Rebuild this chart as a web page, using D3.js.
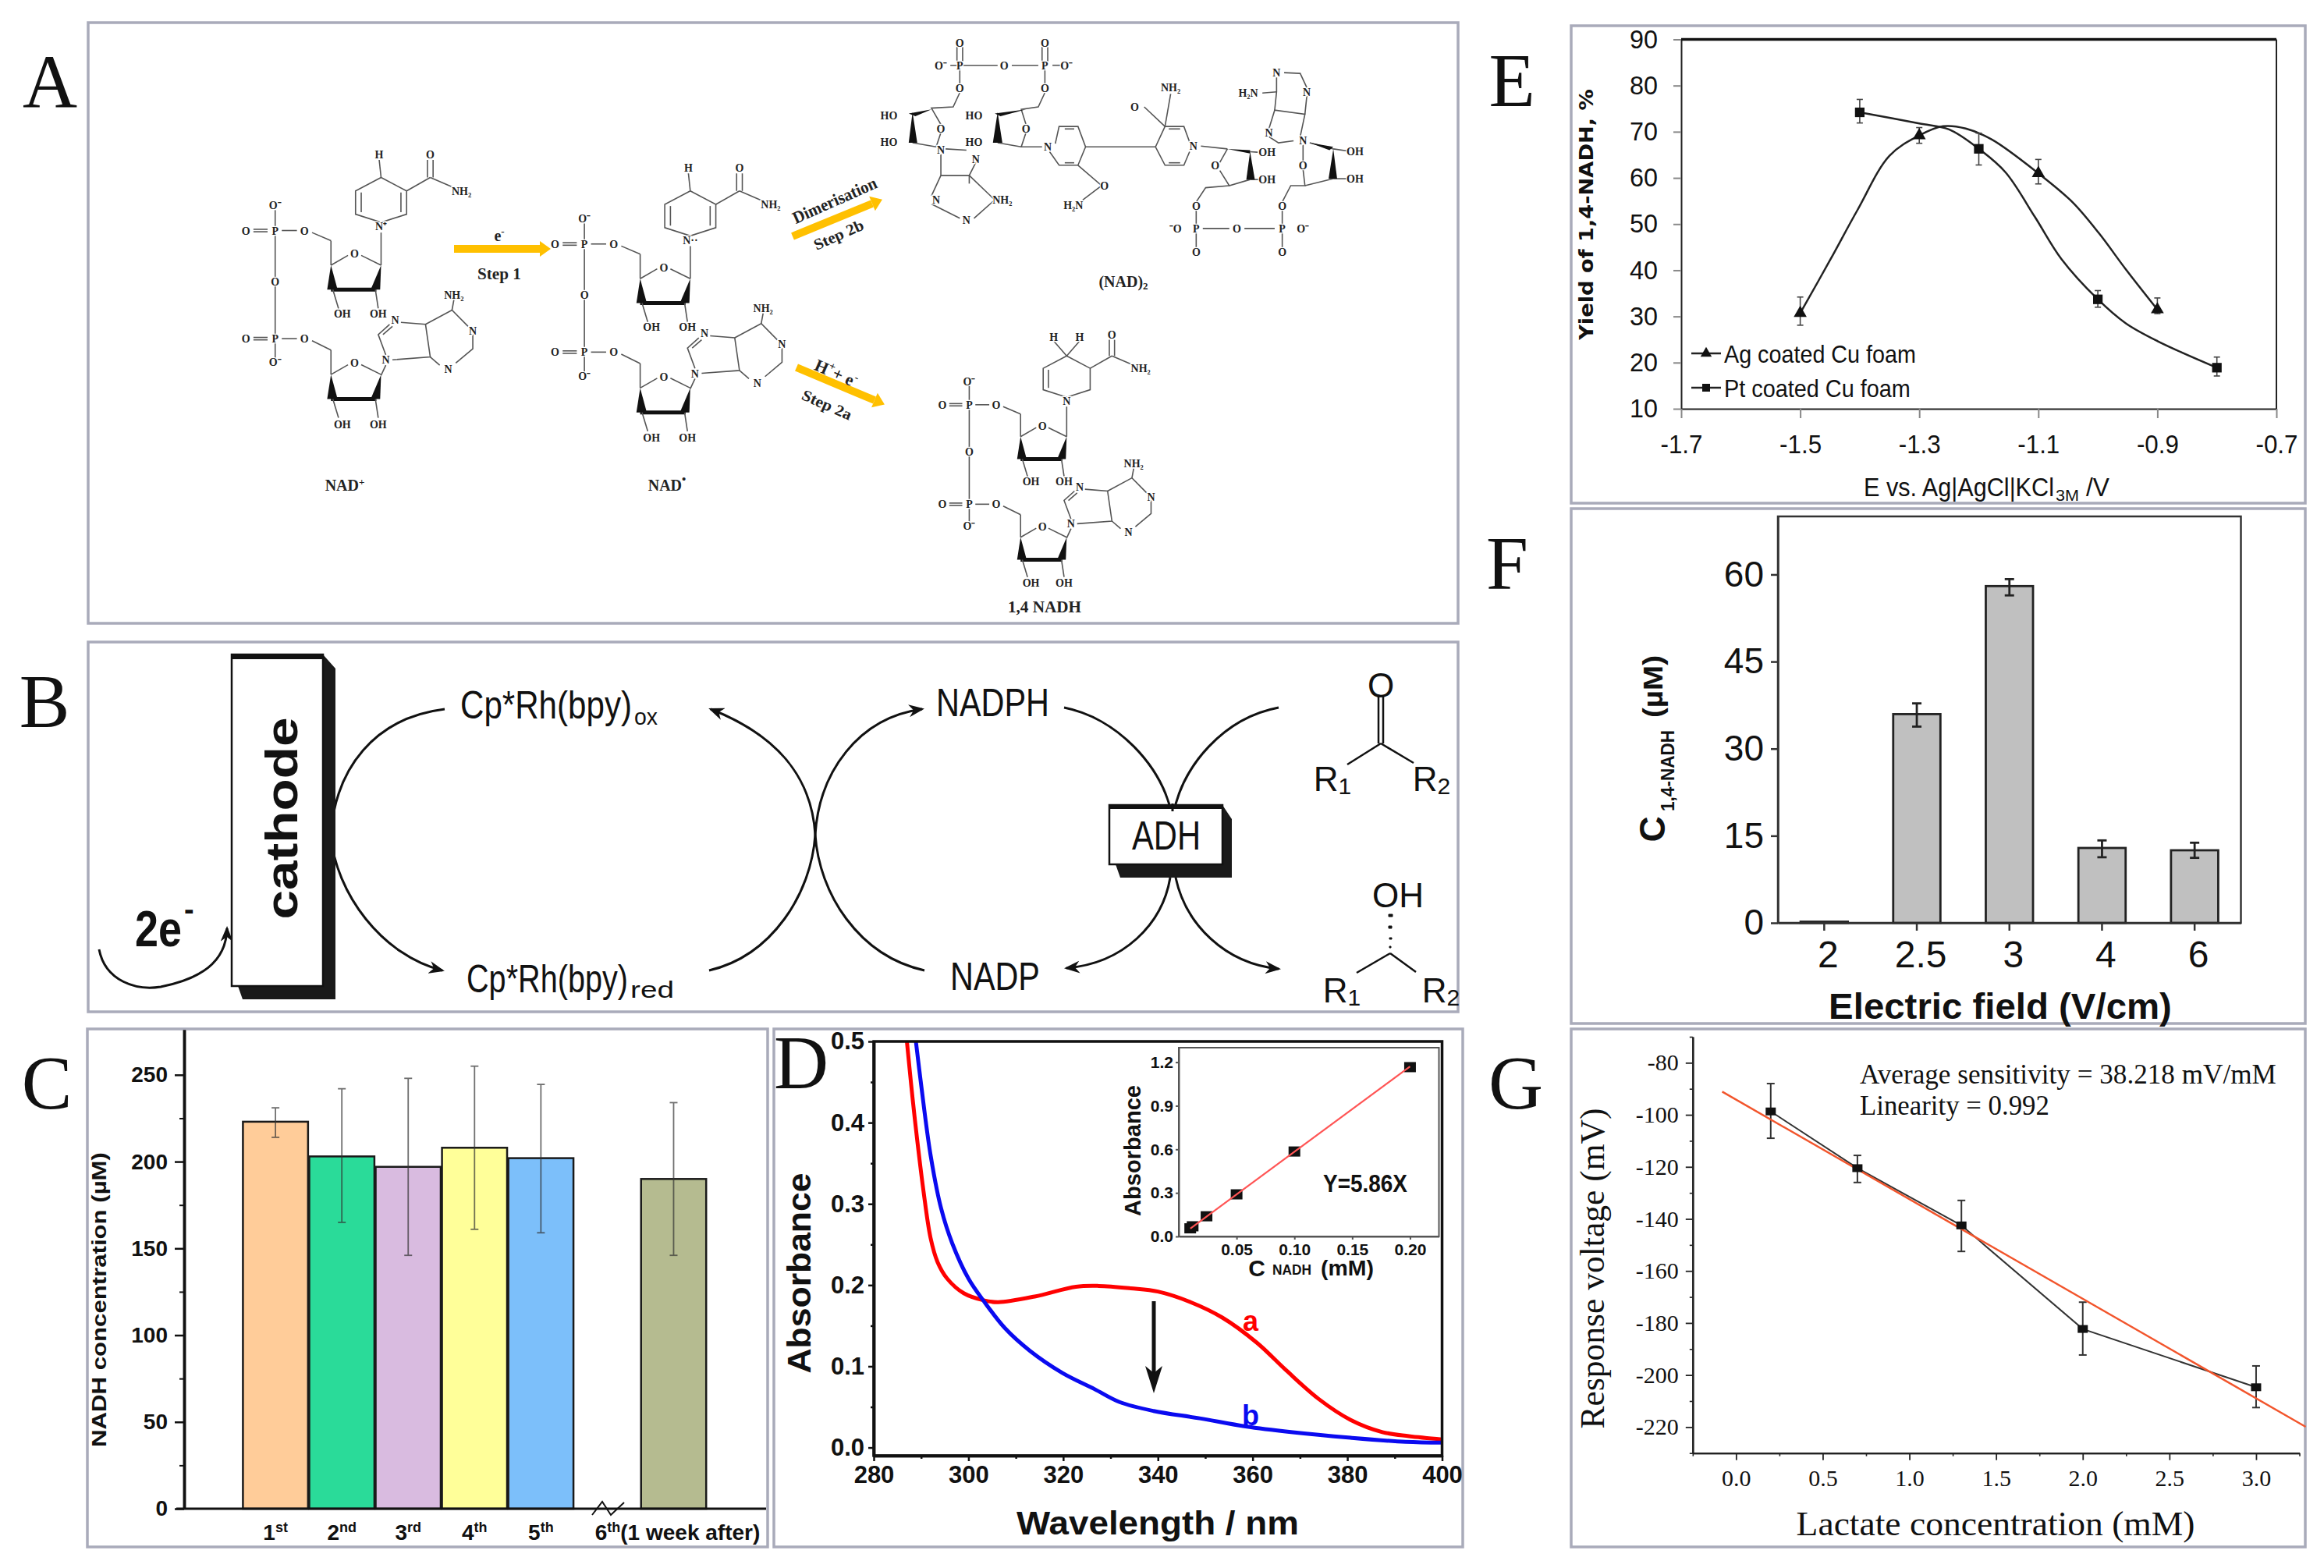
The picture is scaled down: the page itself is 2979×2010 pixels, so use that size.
<!DOCTYPE html>
<html><head><meta charset="utf-8">
<script src="https://cdn.jsdelivr.net/npm/d3@7/dist/d3.min.js"></script>
<style>html,body{margin:0;padding:0;background:#fff}svg{display:block}</style>
</head><body>
<script>
// ---------- DATA ----------
const cRuns = ["1","2","3","4","5","gap","6"];
const cSuffix = ["st","nd","rd","th","th","","th"];
const cValues = [223,203,197,208,202,null,190];
const cErrHi = [231,242,248,255,244.5,null,234];
const cErrLo = [214,165,146,161,159,null,146];
const cColors = ["#ffcc99","#2adb99","#d9bbe0","#ffff99","#7cbffa","#fff","#b5bb90"];
const cTicks = [0,50,100,150,200,250];
const cMinor = [25,75,125,175,225];

const dRedW = [287,287.9,288.7,290.5,292,293.5,295.5,299,303.4,306.3,314,322.7,327.5,334.3,340,346.9,353.6,360.9,367.1,373.9,380.7,387.4,393,400];
const dRedA = [.5,.447,.403,.316,.258,.228,.208,.19,.181,.179,.186,.198,.199,.196,.192,.179,.16,.129,.095,.06,.034,.019,.014,.01];
const dBlueW = [288.9,290,292,294.2,296.6,300,303.4,307.7,313,319.8,326.6,331.9,339.1,348.8,358.5,368.1,380.7,392.3,400];
const dBlueA = [.5,.447,.36,.295,.251,.208,.179,.147,.119,.092,.072,.056,.045,.036,.026,.019,.012,.007,.006];
const dXTicks = [280,300,320,340,360,380,400];
const dXMinor = [290,310,330,350,370,390];
const dYTicks = [0,.1,.2,.3,.4,.5];
const dYMinor = [.05,.15,.25,.35,.45];
const insetC = [.0099,.012,.024,.05,.1,.2];
const insetA = [.056,.07,.139,.29,.585,1.166];
const insetFitC = [.01,.2];
const insetFitA = [.055,1.17];

const eAgV = [-1.5,-1.3,-1.1,-.9];
const eAgY = [30.7,69.2,61,31.5];
const eAgHi = [34.2,70.9,64,34];
const eAgLo = [28.1,67.5,58.7,30.6];
const eAgCurveV = [-1.5,-1.449,-1.404,-1.35,-1.3,-1.26,-1.222,-1.178,-1.1,-1.043,-.998,-.953,-.9];
const eAgCurveY = [30.7,42.4,53,64.8,69.2,71.2,70.7,68.3,61,54.8,48,40.2,31.5];
const ePtV = [-1.4,-1.2,-1,-.8];
const ePtY = [74.2,66.3,33.7,18.9];
const ePtHi = [77,69.7,35.6,21.2];
const ePtLo = [71.9,62.8,32,17.1];
const ePtCurveV = [-1.4,-1.3,-1.25,-1.2,-1.155,-1.106,-1.061,-1,-.953,-.899,-.8];
const ePtCurveY = [74.2,71.8,70.5,66.3,61.2,51.6,42.4,33.7,28.5,24.6,18.9];
const eXTicks = [-1.7,-1.5,-1.3,-1.1,-.9,-.7];
const eYTicks = [10,20,30,40,50,60,70,80,90];

const fFields = ["2","2.5","3","4","6"];
const fValues = [.2,35.95,58,12.9,12.5];
const fErrHi = [null,37.8,59.2,14.2,13.8];
const fErrLo = [null,33.8,56.4,11.3,11.2];
const fYTicks = [0,15,30,45,60];

const gC = [.2,.7,1.3,2,3];
const gV = [-98.7,-120.5,-142.5,-182.3,-204.7];
const gHi = [-88,-115.6,-132.9,-172,-196.5];
const gLo = [-109,-126,-152.5,-192.3,-212.5];
const gFitC = [-.08,3.286];
const gFitV = [-91.1,-219.9];
const gXTicks = [0,.5,1,1.5,2,2.5,3];
const gXMinor = [-.25,.25,.75,1.25,1.75,2.25,2.75,3.25];
const gYTicks = [-80,-100,-120,-140,-160,-180,-200,-220];
const gYMinor = [-70,-90,-110,-130,-150,-170,-190,-210,-230];

// ---------- HELPERS ----------
const SANS="'Liberation Sans',Arial,sans-serif", NARROW="'Liberation Sans Narrow','Liberation Sans',sans-serif",
      SERIF="'Liberation Serif','Times New Roman',serif", WIDE="'DejaVu Sans',sans-serif";
const svg=d3.select("body").append("svg").attr("width",2979).attr("height",2010).attr("viewBox","0 0 2979 2010");
svg.append("rect").attr("width",2979).attr("height",2010).attr("fill","#fff");
function T(p,str,x,y,o={}){
  const base=`translate(${x},${y})`+(o.rot?` rotate(${o.rot})`:"");
  const t=p.append("text").attr("transform",base)
    .attr("font-family",o.fam||SANS).attr("font-size",o.size||20).attr("font-weight",o.weight||"normal")
    .attr("text-anchor",o.anchor||"middle").attr("fill",o.fill||"#111");
  if(!o.base) t.attr("dominant-baseline","central");
  if(o.halo) t.attr("stroke","#fff").attr("stroke-width",o.halo).attr("paint-order","stroke");
  const parts=Array.isArray(str)?str:[{t:str}];
  parts.forEach(q=>{const s=t.append("tspan").text(q.t);
    if(q.dy) s.attr("dy",q.dy); if(q.size) s.attr("font-size",q.size); if(q.weight) s.attr("font-weight",q.weight);});
  if(o.len){ const natural=t.node().getComputedTextLength(); if(natural>0) t.attr("transform",base+` scale(${o.len/natural},1)`); }
  return t;
}
function panel(x0,y0,x1,y1){svg.append("rect").attr("x",x0).attr("y",y0).attr("width",x1-x0).attr("height",y1-y0)
  .attr("fill","#fff").attr("stroke","#a9abba").attr("stroke-width",3.5);}
function styleAxis(g,o){
  g.selectAll("path.domain").attr("stroke",o.color||"#111").attr("stroke-width",o.w||2);
  g.selectAll(".tick line").attr("stroke",o.tickColor||o.color||"#111").attr("stroke-width",o.tw||o.w||2);
  g.selectAll("text").attr("font-family",o.fam||SANS).attr("font-size",o.size||20).attr("font-weight",o.weight||"normal").attr("fill","#111");
  if(o.len) g.selectAll("text").attr("textLength",o.len).attr("lengthAdjust","spacingAndGlyphs");
  return g;
}
function errBars(g,xs,hi,lo,sx,sy,cap,color,w,op){
  xs.forEach((x,i)=>{ if(hi[i]==null) return;
    const e=g.append("g").attr("stroke",color).attr("stroke-width",w).attr("opacity",op||1);
    const px=sx(x)+(sx.bandwidth?sx.bandwidth()/2:0);
    e.append("line").attr("x1",px).attr("x2",px).attr("y1",sy(hi[i])).attr("y2",sy(lo[i]));
    [hi[i],lo[i]].forEach(v=>e.append("line").attr("x1",px-cap).attr("x2",px+cap).attr("y1",sy(v)).attr("y2",sy(v)));
  });
}
const zip=(a,b)=>a.map((v,i)=>[v,b[i]]);

// ---------- PANEL FRAMES ----------
panel(113,29,1869,799);
panel(113,823,1869,1297);
panel(112,1319,984,1983);
panel(992,1319,1875,1983);
panel(2014,33,2955,645);
panel(2014,652,2955,1312);
panel(2014,1319,2955,1983);

// ---------- PANEL A : reaction scheme ----------
const A=svg.append("g");
const zx=x=>x/.825, zy=y=>y/1.912;
function polyl(pts,w,color){A.append("path").attr("d",d3.line()(pts)).attr("fill","none").attr("stroke",color||"#555").attr("stroke-width",w||1.6);}
function fillp(pts){A.append("path").attr("d",d3.line()(pts)+"Z").attr("fill","#111");}
function lab(s,x,y,size){T(A,s,x,y,{fam:SERIF,weight:"bold",size:size||14,halo:2.5,fill:"#222"});}
function nucleotide(dx,dy,s,kind){
  const M=(x,y)=>[(x-291)*s+291+dx,(y-565)*s+565+dy].map((v,i)=>i?zy(v):zx(v));
  const L=(...p)=>polyl(p.map(q=>M(q[0],q[1])));
  const W=(...p)=>fillp(p.map(q=>M(q[0],q[1])));
  const Lb=(t,x,y)=>{const m=M(x,y);lab(t,m[0],m[1]);};
  L([291,515],[291,555]);L([291,575],[291,680]);L([291,700],[291,820]);L([291,840],[291,878]);
  [565,830].forEach(y=>{L([268,y-3],[283,y-3]);L([268,y+3],[283,y+3]);L([298,y],[314,y]);});
  L([330,570],[350,590]);L([330,835],[350,858]);
  [0,268].forEach(o=>{
    const ol=o?[350,858]:[350,590];
    L(ol,[350,650+o]);L([350,650+o],[368,626+o]);L([382,626+o],[403,650+o]);
    W([350,650+o],[346,710+o],[357,710+o]);W([403,650+o],[392,710+o],[402,710+o]);
    polyl([M(350,710+o),M(398,710+o)],5,"#111");
    L([352,710+o],[358,756+o]);L([397,710+o],[400,756+o]);
    Lb("O",375,622+o);Lb("OH",362,768+o+(o?4:0));Lb("OH",400,768+o+(o?4:0));
  });
  L([403,570],[403,650]);
  const ring=[[403,435],[430,468],[430,525],[403,545],[376,525],[376,468],[403,435]];
  L(...ring);
  if(kind!=="h"){L([424,472],[424,520]);L([382,472],[382,520]);} else {L([382,472],[382,520]);}
  L([430,468],[455,435]);L([452,435],[452,392]);L([458,435],[458,392]);L([455,435],[478,458]);
  Lb("O",455,378);Lb("NH₂",488,468);Lb(kind==="plus"?"N⁺":(kind==="rad"?"N··":"N"),403,555);
  if(kind==="h"){L([403,435],[388,395]);L([403,435],[418,395]);Lb("H",388,384);Lb("H",418,384);}
  else{L([403,435],[401,392]);Lb("H",401,378);}
  Lb("P",291,565);Lb("O",260,565);Lb("O",322,565);Lb("O",291,690);Lb("P",291,830);Lb("O",260,830);Lb("O",322,830);
  Lb("O⁻",291,503);Lb("O⁻",291,888);
  L([403,920],[408,895]);
  L([408,870],[400,820],[412,795]);L([424,790],[450,795],[455,875],[415,882]);L([450,795],[478,760],[495,800]);
  L([500,820],[500,855],[482,890]);L([465,895],[455,875]);L([478,760],[480,735]);L([405,820],[415,800]);
  Lb("N",418,783);Lb("N",500,810);Lb("N",474,905);Lb("N",408,882);Lb("NH₂",480,722);
}
nucleotide(0,0,1,"plus");
nucleotide(327,33,1,"rad");
nucleotide(734,427,.92,"h");

// dimer
const dimerLines=[
 [[1012,115],[1012,150]],[[1018,115],[1018,150]],[[1005,160],[1055,160]],[[1070,160],[1098,160]],[[1102,115],[1102,150]],[[1108,115],[1108,150]],[[1113,160],[1122,160]],
 [[1015,170],[1015,207]],[[1105,170],[1105,207]],[[1015,227],[1008,262],[985,265],[995,305]],[[1105,227],[1098,262],[1080,268],[1085,305]],
 [[995,325],[990,360]],[[1085,325],[1080,360],[1102,360]],[[965,350],[990,360]],[[1055,350],[1080,360]],
 [[995,378],[995,430],[1025,430],[1032,398]],[[1000,365],[1022,368]],[[995,430],[985,480]],[[1025,430],[1052,490]],[[1025,430],[1025,450]],
 [[985,500],[1015,535]],[[1030,535],[1052,490]],
 [[1116,352],[1120,310],[1140,310],[1148,360],[1140,405],[1120,405],[1110,372]],[[1126,316],[1136,316]],[[1126,399],[1136,399]],
 [[1148,360],[1222,360]],[[1140,405],[1165,455],[1145,490]],
 [[1222,360],[1232,310],[1252,310],[1258,348]],[[1258,372],[1252,405],[1232,405],[1222,360]],[[1236,316],[1248,316]],[[1236,399],[1248,399]],
 [[1232,310],[1210,262]],[[1232,310],[1238,230]],
 [[1270,358],[1298,365]],[[1298,365],[1290,398]],[[1290,418],[1300,455],[1322,440]],[[1300,455],[1275,460],[1265,495]],[[1322,372],[1330,373]],[[1322,440],[1332,440]],
 [[1265,515],[1265,550]],[[1265,570],[1265,607]],[[1272,560],[1300,560]],[[1316,560],[1348,560]],[[1356,570],[1356,607]],[[1356,515],[1356,550]],[[1356,495],[1365,455],[1380,455],[1378,415]],
 [[1378,395],[1378,355]],[[1385,350],[1410,365]],[[1380,455],[1410,438]],[[1410,365],[1425,370]],[[1410,438],[1425,438]],
 [[1368,345],[1352,350],[1342,335]],[[1342,315],[1348,270],[1380,280],[1375,335]],[[1348,270],[1350,225],[1350,190]],[[1358,178],[1375,180],[1382,215]],[[1382,235],[1380,280]],[[1335,228],[1350,225]]
];
dimerLines.forEach(l=>polyl(l.map(p=>[zx(p[0]),zy(p[1])])));
[[[965,275],[961,350],[970,350]],[[985,268],[961,278],[968,285]],[[1055,275],[1050,350],[1060,350]],[[1085,268],[1052,278],[1058,285]],
 [[1322,372],[1318,440],[1327,440]],[[1298,365],[1322,368],[1322,376]],[[1410,365],[1405,438],[1414,438]],[[1385,350],[1410,360],[1406,368]]]
 .forEach(p=>fillp(p.map(q=>[zx(q[0]),zy(q[1])])));
[["O",1015,105],["O",1105,105],["P",1015,160],["P",1105,160],["O",1062,160],["O⁻",995,160],["O⁻",1128,160],["O",1015,217],["O",1105,217],
 ["HO",940,283],["HO",940,348],["HO",1030,283],["HO",1030,348],["O",995,315],["O",1085,315],["N",995,368],["N",1108,360],["N",1032,390],["N",990,490],["N",1022,540],["NH₂",1060,490],
 ["O",1168,455],["H₂N",1135,503],["O",1200,262],["NH₂",1238,215],["N",1262,358],["OH",1340,373],["OH",1340,440],["O",1285,405],
 ["O",1265,505],["P",1265,560],["O",1265,617],["⁻O",1243,560],["O",1308,560],["P",1356,560],["O",1356,617],["O⁻",1378,560],["O",1356,505],
 ["O",1378,405],["N",1378,345],["OH",1433,370],["OH",1433,438],["N",1342,325],["N",1350,178],["N",1382,225],["H₂N",1320,228]]
 .forEach(d=>lab(d[0],zx(d[1]),zy(d[2])));

// yellow arrows
function yarrow(x0,y0,x1,y1){
  A.append("line").attr("x1",x0).attr("y1",y0).attr("x2",x1).attr("y2",y1).attr("stroke","#ffc000").attr("stroke-width",10);
  const a=Math.atan2(y1-y0,x1-x0),L=14,W=10,c=Math.cos(a),s=Math.sin(a);
  A.append("path").attr("d",`M${x1+L*c},${y1+L*s}L${x1-W*s},${y1+W*c}L${x1+W*s},${y1-W*c}Z`).attr("fill","#ffc000");
}
yarrow(582,319,692,319);yarrow(1016,303,1118,261);yarrow(1021,471,1121,513);
const bs={fam:SERIF,weight:"bold",size:20,fill:"#222"};
T(A,[{t:"e"},{t:"-",dy:-6,size:13}],640,302,bs);
T(A,"Step 1",640,351,{...bs,len:56});
T(A,"Dimerisation",1070,257,{...bs,rot:-24,size:22,len:116});
T(A,"Step 2b",1075,301,{...bs,rot:-24,len:68});
T(A,[{t:"H"},{t:"+",dy:-6,size:14},{t:"+ e",dy:6},{t:"-",dy:-6,size:14}],1072,478,{...bs,rot:24,size:22});
T(A,"Step 2a",1060,519,{...bs,rot:24,len:68});
T(A,[{t:"NAD"},{t:"+",dy:-5,size:13}],442,622,bs);
T(A,[{t:"NAD"},{t:"•",dy:-8,size:15}],855,622,bs);
T(A,[{t:"(NAD)"},{t:"2",dy:5,size:13}],1440,361,bs);
T(A,"1,4 NADH",1339,778,{...bs,len:94});

// ---------- PANEL B : cofactor cycle ----------
const B=svg.append("g");
const defs=svg.append("defs");
defs.append("marker").attr("id","ah").attr("viewBox","0 0 20 16").attr("refX",17).attr("refY",8).attr("markerWidth",20).attr("markerHeight",16).attr("markerUnits","userSpaceOnUse").attr("orient","auto")
  .append("path").attr("d","M0,0 L20,8 L0,16 L6,8 Z").attr("fill","#111");
[["M570,909 C480,920 430,985 424,1070 C430,1145 490,1225 567,1244",1],
 ["M909,1244 C990,1225 1040,1145 1045,1070 C1040,990 990,940 911,909",1],
 ["M1185,1244 C1100,1225 1050,1145 1045,1070 C1050,990 1100,920 1182,909",1],
 ["M1364,907 C1430,920 1490,980 1503,1048",0],["M1639,907 C1570,920 1515,980 1503,1048",0],
 ["M1500,1125 C1490,1185 1440,1235 1367,1241",1],["M1507,1125 C1520,1185 1570,1235 1639,1242",1],
 ["M127,1217 C135,1258 175,1270 206,1265 C255,1255 290,1235 291,1190",1]]
 .forEach(d=>{const p=B.append("path").attr("d",d[0]).attr("fill","none").attr("stroke","#111").attr("stroke-width",3);
   if(d[1]) p.attr("marker-end","url(#ah)");});
function box3d(x0,y0,x1,y1,xs,ys,top){
  B.append("path").attr("d",`M${x0+8},${y1}L${x0+14},${ys}L${xs},${ys}L${xs},${y0+18}L${x1},${y0}L${x1},${y1}Z`).attr("fill","#1a1a1a");
  B.append("rect").attr("x",x0).attr("y",y0).attr("width",x1-x0).attr("height",y1-y0).attr("fill","#fff").attr("stroke","#111").attr("stroke-width",2.5);
  B.append("rect").attr("x",x0).attr("y",y0).attr("width",x1-x0).attr("height",top).attr("fill","#111");
}
box3d(297,839,414,1264,430,1281,6);
box3d(1422,1032,1567,1108,1579,1125,5);
B.append("path").attr("d","M1503,1030V1040").attr("stroke","#111").attr("stroke-width",3);
T(B,"cathode",361,1049,{size:58,weight:"bold",rot:-90,len:259});
T(B,"ADH",1495,1070,{fam:NARROW,size:52,len:88});
const Bt={fam:NARROW,size:50,anchor:"start"};
T(B,"Cp*Rh(bpy)",590,904,{...Bt,len:220});
T(B,"ox",813,919,{...Bt,size:30,len:30});
T(B,"Cp*Rh(bpy)",598,1254,{...Bt,len:207});
T(B,"red",808,1269,{...Bt,size:30,len:56});
T(B,"NADPH",1200,901,{...Bt,len:145});
T(B,"NADP",1218,1252,{...Bt,len:115});
T(B,"2e",173,1190,{fam:NARROW,size:64,weight:"bold",anchor:"start",len:60});
T(B,"-",236,1166,{fam:NARROW,size:38,weight:"bold",anchor:"start"});
const S3=(p)=>B.append("path").attr("d",p).attr("fill","none").attr("stroke","#111").attr("stroke-width",2.5);
S3("M1767,893V953M1773,893V953M1770,953L1727,980M1770,953L1812,978");
S3("M1782,1222L1739,1247M1782,1222L1815,1246");
B.append("path").attr("d","M1780,1172h5v3h-5zM1780,1187h4v3h-4zM1781,1202h3v2h-3zM1781,1213h2v2h-2z").attr("fill","#111").attr("stroke","#111");
const bl={fam:NARROW,size:44};
T(B,"O",1770,878,bl);T(B,"OH",1792,1147,bl);
T(B,[{t:"R"},{t:"1",dy:9,size:30}],1708,998,bl);T(B,[{t:"R"},{t:"2",dy:9,size:30}],1835,998,bl);
T(B,[{t:"R"},{t:"1",dy:9,size:30}],1720,1269,bl);T(B,[{t:"R"},{t:"2",dy:9,size:30}],1847,1269,bl);

// ---------- PANEL C ----------
const C=svg.append("g");
const cx=d3.scaleBand().domain(cRuns).range([310.6,906]);
const cy=d3.scaleLinear().domain([0,276]).range([1934,1320]);
cRuns.forEach((r,i)=>{ if(cValues[i]==null) return;
  C.append("rect").attr("x",cx(r)+.8).attr("width",cx.bandwidth()-1.6).attr("y",cy(cValues[i])).attr("height",cy(0)-cy(cValues[i]))
   .attr("fill",cColors[i]).attr("stroke","#1a1a1a").attr("stroke-width",2.5);});
errBars(C,cRuns,cErrHi,cErrLo,cx,cy,5,"#333",1.8,.7);
styleAxis(C.append("g").attr("transform","translate(236,0)").call(d3.axisLeft(cy).tickValues(cMinor).tickSize(6).tickFormat("").tickSizeOuter(0)),{w:3.5,tw:2});
styleAxis(C.append("g").attr("transform","translate(236,0)").call(d3.axisLeft(cy).tickValues(cTicks).tickSize(12).tickPadding(9).tickSizeOuter(0)),{w:3.5,tw:2.5,size:28,weight:"bold",fam:NARROW});
C.append("line").attr("x1",226).attr("x2",982).attr("y1",cy(0)).attr("y2",cy(0)).attr("stroke","#111").attr("stroke-width",3);
const cAx=C.append("g").attr("transform",`translate(0,${cy(0)})`).call(d3.axisBottom(cx).tickSize(0).tickPadding(20));
cAx.selectAll("path.domain").remove();
cAx.selectAll("text").each(function(d,i){const s=d3.select(this).text("").attr("font-family",NARROW).attr("font-size",28).attr("font-weight","bold").attr("fill","#111");
  if(d==="gap") return;
  s.append("tspan").text(d);
  s.append("tspan").text(cSuffix[i]).attr("font-size",18).attr("dy",-10);
  if(d==="6"){ s.append("tspan").text("(1 week after)").attr("dy",10); s.attr("x",5); }
});
C.append("path").attr("d","M759,1942L772,1925L783,1942L800,1926").attr("fill","none").attr("stroke","#111").attr("stroke-width",2);
T(C,"NADH concentration (µM)",127,1666,{size:26,weight:"bold",rot:-90,len:378});

// ---------- PANEL D ----------
const D=svg.append("g");
const dx=d3.scaleLinear().domain([280,400]).range([1120,1848.5]);
const dy=d3.scaleLinear().domain([-.01,.5]).range([1866,1335]);
const dLine=d3.line().x(d=>dx(d[0])).y(d=>dy(d[1])).curve(d3.curveCatmullRom);
D.append("path").attr("d",dLine(zip(dRedW,dRedA))).attr("fill","none").attr("stroke","#f00").attr("stroke-width",5);
D.append("path").attr("d",dLine(zip(dBlueW,dBlueA))).attr("fill","none").attr("stroke","#0a0af0").attr("stroke-width",5);
D.append("rect").attr("x",1120).attr("y",1335).attr("width",728.5).attr("height",531).attr("fill","none").attr("stroke","#111").attr("stroke-width",3.5);
styleAxis(D.append("g").attr("transform","translate(1120,0)").call(d3.axisLeft(dy).tickValues(dYMinor).tickSize(4).tickFormat("").tickSizeOuter(0)),{w:3.5,tw:2.5});
styleAxis(D.append("g").attr("transform","translate(1120,0)").call(d3.axisLeft(dy).tickValues(dYTicks).tickSize(7).tickPadding(5).tickFormat(d3.format(".1f")).tickSizeOuter(0)),{w:3.5,tw:2.5,size:31,weight:"bold",fam:NARROW});
styleAxis(D.append("g").attr("transform","translate(0,1866)").call(d3.axisBottom(dx).tickValues(dXMinor).tickSize(4).tickFormat("").tickSizeOuter(0)),{w:3.5,tw:2.5});
styleAxis(D.append("g").attr("transform","translate(0,1866)").call(d3.axisBottom(dx).tickValues(dXTicks).tickSize(7).tickPadding(6).tickSizeOuter(0)),{w:3.5,tw:2.5,size:31,weight:"bold",fam:NARROW});
T(D,"Wavelength / nm",1484,1952,{size:42,weight:"bold",len:362});
T(D,"Absorbance",1024,1632,{size:42,weight:"bold",rot:-90,len:257});
T(D,"a",1603,1693,{size:36,weight:"bold",fill:"#f00"});
T(D,"b",1603,1814,{size:36,weight:"bold",fill:"#0a0af0"});
D.append("line").attr("x1",1479).attr("x2",1479).attr("y1",1668).attr("y2",1760).attr("stroke","#111").attr("stroke-width",5);
D.append("path").attr("d","M1479,1786L1468,1751L1479,1760L1490,1751Z").attr("fill","#111");
// inset
const ix=d3.scaleLinear().domain([0,.225]).range([1511,1844.5]);
const iy=d3.scaleLinear().domain([0,1.3]).range([1585,1343]);
D.append("rect").attr("x",1511).attr("y",1343).attr("width",333.5).attr("height",242).attr("fill","#fff").attr("stroke","#555").attr("stroke-width",2);
styleAxis(D.append("g").attr("transform","translate(1511,0)").call(d3.axisLeft(iy).tickValues([0,.3,.6,.9,1.2]).tickSize(4).tickPadding(3).tickFormat(d3.format(".1f")).tickSizeOuter(0)),{color:"#555",w:2,size:21,weight:"bold",fam:NARROW});
styleAxis(D.append("g").attr("transform","translate(0,1585)").call(d3.axisBottom(ix).tickValues([.05,.1,.15,.2]).tickSize(4).tickPadding(5).tickFormat(d3.format(".2f")).tickSizeOuter(0)),{color:"#555",w:2,size:21,weight:"bold",fam:NARROW});
D.append("g").selectAll("rect").data(zip(insetC,insetA)).join("rect").attr("x",d=>ix(d[0])-7.5).attr("y",d=>iy(d[1])-6.5).attr("width",15).attr("height",13).attr("fill","#111");
D.append("path").attr("d",d3.line().x(d=>ix(d[0])).y(d=>iy(d[1]))(zip(insetFitC,insetFitA))).attr("fill","none").attr("stroke","#f55").attr("stroke-width",2.2);
T(D,"Y=5.86X",1750,1516,{size:31,weight:"bold",fam:NARROW,len:108});
T(D,"Absorbance",1452,1475,{size:29,weight:"bold",rot:-90,len:168});
T(D,"C",1611,1625,{size:30,weight:"bold"});
T(D,"NADH",1656,1628,{size:19,weight:"bold",len:50});
T(D,"(mM)",1727,1625,{size:28,weight:"bold",len:68});

// ---------- PANEL E ----------
const E=svg.append("g");
const ex=d3.scaleLinear().domain([-1.7,-.7]).range([2155,2918]);
const ey=d3.scaleLinear().domain([10,90]).range([524,50.5]);
const eLine=d3.line().x(d=>ex(d[0])).y(d=>ey(d[1])).curve(d3.curveCatmullRom);
styleAxis(E.append("g").attr("transform","translate(2155,0)").call(d3.axisLeft(ey).tickValues(eYTicks).tickSize(10).tickPadding(20).tickSizeOuter(0)),{color:"#222",w:2,tickColor:"#888",size:33,fam:NARROW,len:36});
styleAxis(E.append("g").attr("transform","translate(0,524)").call(d3.axisBottom(ex).tickValues(eXTicks).tickSize(12).tickPadding(22).tickFormat(d=>d.toFixed(1)).tickSizeOuter(0)),{color:"#222",w:2,tickColor:"#888",size:33,fam:NARROW,len:54});
E.append("line").attr("x1",2155).attr("x2",2918).attr("y1",50.5).attr("y2",50.5).attr("stroke","#111").attr("stroke-width",3.5);
E.append("line").attr("x1",2918).attr("x2",2918).attr("y1",50.5).attr("y2",524).attr("stroke","#222").attr("stroke-width",2);
E.append("path").attr("d",eLine(zip(eAgCurveV,eAgCurveY))).attr("fill","none").attr("stroke","#222").attr("stroke-width",2.5);
E.append("path").attr("d",eLine(zip(ePtCurveV,ePtCurveY))).attr("fill","none").attr("stroke","#222").attr("stroke-width",2.5);
errBars(E,eAgV,eAgHi,eAgLo,ex,ey,4,"#444",1.6);
errBars(E,ePtV,ePtHi,ePtLo,ex,ey,4,"#444",1.6);
const tri=d3.symbol(d3.symbolTriangle,120)(), sq=d3.symbol(d3.symbolSquare,150)();
E.selectAll(".ag").data(zip(eAgV,eAgY)).join("path").attr("d",tri).attr("transform",d=>`translate(${ex(d[0])},${ey(d[1])})`).attr("fill","#111");
E.selectAll(".pt").data(zip(ePtV,ePtY)).join("path").attr("d",sq).attr("transform",d=>`translate(${ex(d[0])},${ey(d[1])})`).attr("fill","#111");
E.append("line").attr("x1",2168).attr("x2",2206).attr("y1",453).attr("y2",453).attr("stroke","#222").attr("stroke-width",2.5);
E.append("line").attr("x1",2168).attr("x2",2206).attr("y1",497).attr("y2",497).attr("stroke","#222").attr("stroke-width",2.5);
E.append("path").attr("d",d3.symbol(d3.symbolTriangle,90)()).attr("transform","translate(2187,453)").attr("fill","#111");
E.append("path").attr("d",d3.symbol(d3.symbolSquare,100)()).attr("transform","translate(2187,497)").attr("fill","#111");
T(E,"Ag coated Cu foam",2210,453,{anchor:"start",fam:NARROW,size:32,len:246});
T(E,"Pt coated Cu foam",2210,497,{anchor:"start",fam:NARROW,size:32,len:239});
T(E,"Yield of 1,4-NADH, %",2034,275,{fam:WIDE,size:24,weight:"bold",rot:-90,len:322});
T(E,"E vs. Ag|AgCl|KCl",2389,625,{fam:NARROW,size:33,anchor:"start",len:244});
T(E,"3M",2635,634,{fam:NARROW,size:20,anchor:"start",len:30});
T(E,"/V",2674,625,{fam:NARROW,size:33,anchor:"start",len:30});

// ---------- PANEL F ----------
const F=svg.append("g");
const fx=d3.scaleBand().domain(fFields).range([2279,2872.5]).paddingInner(.49).paddingOuter(.245);
const fy=d3.scaleLinear().domain([0,70]).range([1183,662]);
F.append("rect").attr("x",2279).attr("y",662).attr("width",593.5).attr("height",521).attr("fill","none").attr("stroke","#333").attr("stroke-width",2.5);
F.selectAll(".bar").data(fFields).join("rect").attr("x",d=>fx(d)).attr("width",fx.bandwidth()).attr("y",(d,i)=>fy(fValues[i])).attr("height",(d,i)=>fy(0)-fy(fValues[i]))
  .attr("fill","#c0c0c0").attr("stroke","#222").attr("stroke-width",2.8);
errBars(F,fFields,fErrHi,fErrLo,fx,fy,6,"#222",2.8);
styleAxis(F.append("g").attr("transform","translate(2279,0)").call(d3.axisLeft(fy).tickValues(fYTicks).tickSize(9).tickPadding(9).tickSizeOuter(0)),{color:"#333",w:2.5,size:46,fam:NARROW});
styleAxis(F.append("g").attr("transform","translate(0,1183)").call(d3.axisBottom(fx).tickSize(10).tickPadding(13).tickSizeOuter(0)),{color:"#333",w:2.5,size:48,fam:SANS}).selectAll("text").attr("x",5);
T(F,"Electric field (V/cm)",2564,1290,{size:46,weight:"bold",len:440});
T(F,"C",2118,1063,{weight:"bold",rot:-90,size:46});
T(F,"1,4-NADH",2138,988,{weight:"bold",rot:-90,size:24,len:104});
T(F,"(µM)",2118,880,{weight:"bold",rot:-90,size:36,len:80});

// ---------- PANEL G ----------
const G=svg.append("g");
const gx=d3.scaleLinear().domain([-.25,3.25]).range([2169.8,2947.5]);
const gy=d3.scaleLinear().domain([-230,-70]).range([1862.7,1329]);
styleAxis(G.append("g").attr("transform","translate(2169.8,0)").call(d3.axisLeft(gy).tickValues(gYMinor).tickSize(4).tickFormat("").tickSizeOuter(0)),{color:"#222",w:2.2,tw:1.6});
styleAxis(G.append("g").attr("transform","translate(2169.8,0)").call(d3.axisLeft(gy).tickValues(gYTicks).tickSize(9).tickPadding(9).tickFormat(d=>String(d)).tickSizeOuter(0)),{color:"#222",w:2.2,tw:1.8,size:30,fam:SERIF});
styleAxis(G.append("g").attr("transform","translate(0,1862.7)").call(d3.axisBottom(gx).tickValues(gXMinor).tickSize(4).tickFormat("").tickSizeOuter(0)),{color:"#222",w:2.2,tw:1.6});
styleAxis(G.append("g").attr("transform","translate(0,1862.7)").call(d3.axisBottom(gx).tickValues(gXTicks).tickSize(9).tickPadding(12).tickFormat(d3.format(".1f")).tickSizeOuter(0)),{color:"#222",w:2.2,tw:1.8,size:30,fam:SERIF});
const gLine=d3.line().x(d=>gx(d[0])).y(d=>gy(d[1]));
errBars(G,gC,gHi,gLo,gx,gy,5,"#333",2);
G.append("path").attr("d",gLine(zip(gC,gV))).attr("fill","none").attr("stroke","#333").attr("stroke-width",2);
G.append("path").attr("d",gLine(zip(gFitC,gFitV))).attr("fill","none").attr("stroke","#f2552c").attr("stroke-width",2.5);
G.selectAll(".pt").data(zip(gC,gV)).join("rect").attr("x",d=>gx(d[0])-6.5).attr("y",d=>gy(d[1])-5).attr("width",13).attr("height",10).attr("fill","#111");
T(G,"Average sensitivity = 38.218 mV/mM",2384,1377,{anchor:"start",fam:SERIF,size:35,len:534});
T(G,"Linearity = 0.992",2384,1417,{anchor:"start",fam:SERIF,size:35,len:243});
T(G,"Lactate concentration (mM)",2558,1953,{fam:SERIF,size:44,len:511});
T(G,"Response voltage (mV)",2041,1626,{fam:SERIF,size:44,rot:-90,len:411});

// ---------- PANEL LETTERS ----------
[["A",64,137,97],["B",57,932,97],["C",60,1421,97],["D",1027,1395,97],["E",1938,135.5,97],["F",1932,755,97],["G",1943,1421,97]].forEach(d=>
  T(svg,d[0],d[1],d[2],{fam:SERIF,size:d[3],base:1,fill:"#111"}));
</script>
</body></html>
